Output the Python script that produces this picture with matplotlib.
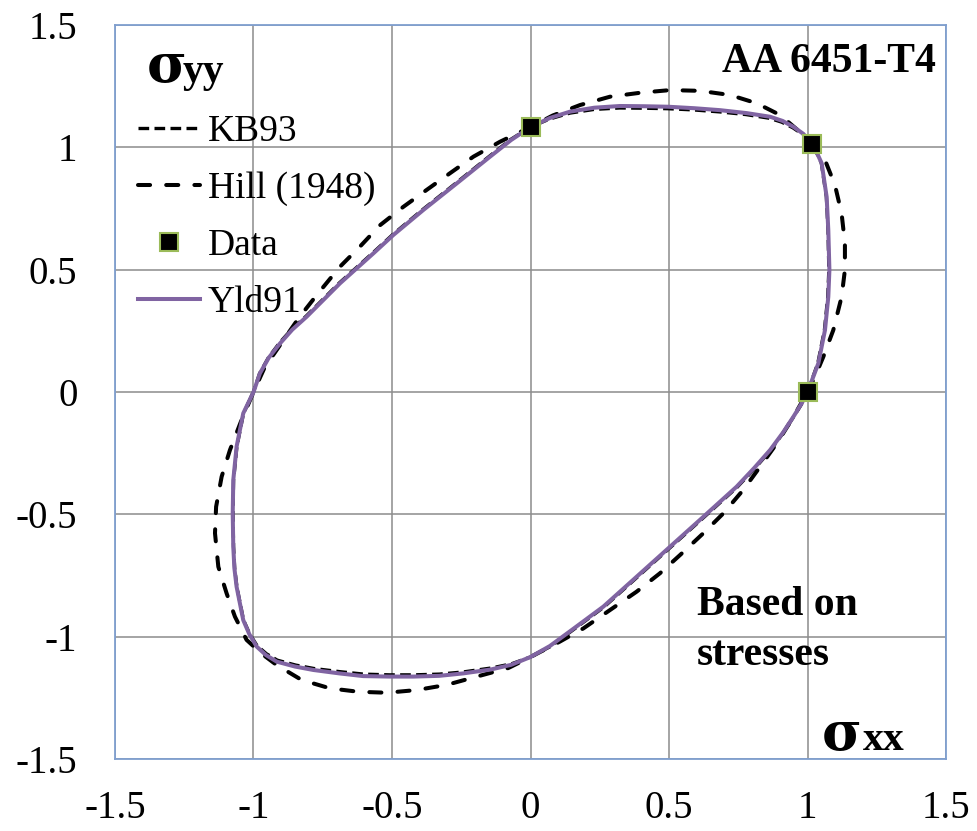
import matplotlib.pyplot as plt

plt.rcParams['font.family'] = ['Liberation Serif', 'DejaVu Serif']

# Yld91 yield locus (normalised stresses), counter-clockwise from uniaxial xx
yld91_x = [1.000, 1.039, 1.063, 1.075, 1.079, 1.075, 1.069, 1.051, 1.035, 1.015,
           0.985, 0.949, 0.910, 0.865, 0.780, 0.684, 0.590, 0.497, 0.410, 0.323,
           0.230, 0.143, 0.070, 0.000, -0.070, -0.146, -0.266, -0.387, -0.495,
           -0.567, -0.688, -0.808, -0.860, -0.904, -0.945, -0.977, -1.000, -1.037,
           -1.061, -1.073, -1.075, -1.073, -1.069, -1.061, -1.037, -1.015, -0.988,
           -0.955, -0.916, -0.850, -0.784, -0.690, -0.604, -0.510, -0.423, -0.330,
           -0.243, -0.143, -0.070, 0.000, 0.070, 0.146, 0.263, 0.383, 0.504, 0.624,
           0.744, 0.808, 0.865, 0.912, 0.949, 0.977, 1.000]
yld91_y = [0.000, 0.117, 0.253, 0.389, 0.499, 0.662, 0.798, 0.935, 0.975, 1.015,
           1.055, 1.084, 1.108, 1.125, 1.140, 1.152, 1.160, 1.166, 1.168, 1.169,
           1.162, 1.146, 1.120, 1.083, 1.030, 0.962, 0.853, 0.744, 0.642,
           0.567, 0.444, 0.308, 0.255, 0.199, 0.140, 0.076, 0.000, -0.087,
           -0.223, -0.360, -0.496, -0.632, -0.720, -0.796, -0.932, -0.990, -1.041,
           -1.075, -1.102, -1.122, -1.136, -1.150, -1.161, -1.163, -1.163, -1.160,
           -1.150, -1.134, -1.115, -1.083, -1.038, -0.975, -0.877, -0.755, -0.632, -0.510,
           -0.387, -0.310, -0.237, -0.165, -0.101, -0.050, 0.000]

# KB93 locus, nearly on top of Yld91
kb93_x = [1.000, 1.037, 1.061, 1.073, 1.077, 1.074, 1.068, 1.050, 1.034, 1.015,
          0.984, 0.947, 0.907, 0.862, 0.778, 0.682, 0.588, 0.496, 0.409, 0.322,
          0.229, 0.142, 0.069, 0.000, -0.072, -0.148, -0.268, -0.389, -0.497,
          -0.569, -0.690, -0.810, -0.862, -0.906, -0.946, -0.978, -1.000, -1.036,
          -1.060, -1.072, -1.074, -1.072, -1.068, -1.060, -1.036, -1.014, -0.987,
          -0.953, -0.914, -0.848, -0.782, -0.688, -0.602, -0.509, -0.422, -0.329,
          -0.242, -0.142, -0.069, 0.000, 0.072, 0.148, 0.265, 0.385, 0.506, 0.626,
          0.746, 0.810, 0.866, 0.913, 0.950, 0.978, 1.000]
kb93_y = [0.000, 0.117, 0.253, 0.389, 0.499, 0.662, 0.798, 0.935, 0.975, 1.015,
          1.052, 1.080, 1.103, 1.119, 1.134, 1.145, 1.153, 1.158, 1.160, 1.161,
          1.155, 1.140, 1.116, 1.083, 1.032, 0.964, 0.855, 0.746, 0.644,
          0.569, 0.446, 0.310, 0.257, 0.201, 0.141, 0.076, 0.000, -0.087,
          -0.223, -0.360, -0.496, -0.632, -0.720, -0.796, -0.932, -0.988, -1.037,
          -1.070, -1.096, -1.116, -1.130, -1.143, -1.153, -1.156, -1.156, -1.153,
          -1.144, -1.128, -1.111, -1.083, -1.040, -0.977, -0.879, -0.757, -0.634, -0.512,
          -0.389, -0.312, -0.239, -0.166, -0.101, -0.050, 0.000]

# Hill (1948) quadratic locus
hill_x = [1.000, 1.027, 1.057, 1.093, 1.123, 1.135, 1.135, 1.123, 1.099, 1.063,
          1.015, 0.960, 0.901, 0.817, 0.720, 0.612, 0.504, 0.395, 0.287, 0.179,
          0.080, 0.000, -0.110, -0.206, -0.291, -0.375, -0.459, -0.543, -0.616,
          -0.688, -0.772, -0.835, -0.892, -0.960, -1.000, -1.043, -1.085, -1.115,
          -1.135, -1.139, -1.127, -1.097, -1.067, -1.025, -0.970, -0.916, -0.826,
          -0.724, -0.622, -0.519, -0.411, -0.303, -0.194, -0.080, 0.000, 0.106,
          0.191, 0.287, 0.383, 0.467, 0.540, 0.624, 0.696, 0.768, 0.829, 0.889,
          0.950, 1.000]
hill_y = [0.000, 0.063, 0.144, 0.253, 0.389, 0.499, 0.608, 0.730, 0.846, 0.948,
          1.015, 1.075, 1.132, 1.180, 1.214, 1.231, 1.234, 1.223, 1.207, 1.173,
          1.130, 1.083, 1.023, 0.962, 0.894, 0.826, 0.757, 0.682, 0.594,
          0.512, 0.396, 0.305, 0.212, 0.100, 0.000, -0.114, -0.237, -0.346,
          -0.469, -0.577, -0.714, -0.823, -0.918, -1.013, -1.070, -1.116, -1.177,
          -1.211, -1.225, -1.229, -1.218, -1.197, -1.163, -1.128, -1.083, -1.020,
          -0.966, -0.891, -0.816, -0.741, -0.666, -0.577, -0.496, -0.400, -0.305, -0.210,
          -0.100, 0.000]

# measured yield stresses
data_x = [0.0, 1.015, 1.0]
data_y = [1.083, 1.015, 0.0]

ticks = [-1.5, -1, -0.5, 0, 0.5, 1, 1.5]
tick_labels = ['-1.5', '-1', '-0.5', '0', '0.5', '1', '1.5']

fig = plt.figure(figsize=(9.77, 8.31), dpi=100)
ax = fig.add_axes([0.1177, 0.0866, 0.8506, 0.8833])

ax.plot(kb93_x, kb93_y, color='black', lw=2.4, linestyle=(0, (3.2, 1.6)), label='KB93')
ax.plot(hill_x, hill_y, color='black', lw=2.9, linestyle=(0, (3.0, 4.0)),
        dash_capstyle='round', label='Hill (1948)')
ax.plot(data_x, data_y, 's', color='black', markersize=13, markeredgecolor='#9BBB59',
        markeredgewidth=1.5, label='Data', zorder=5)
ax.plot(yld91_x, yld91_y, color='#8064A2', lw=2.9, label='Yld91', zorder=4)

ax.set_xlim(-1.5, 1.5)
ax.set_ylim(-1.5, 1.5)
ax.set_xticks(ticks)
ax.set_xticklabels(tick_labels)
ax.set_yticks(ticks)
ax.set_yticklabels(tick_labels)
ax.tick_params(length=0, labelsize=28)
ax.tick_params(axis='y', pad=27)
ax.tick_params(axis='x', pad=22)
ax.grid(True, color='#8c8c8c', lw=1.1)
ax.set_axisbelow(True)
for s in ax.spines.values():
    s.set_color('#7F9FCF')
    s.set_linewidth(1.3)

ax.legend(loc='upper left', bbox_to_anchor=(0.028, 0.878),
          frameon=False, fontsize=27, borderaxespad=0, borderpad=0,
          handlelength=1.65, handletextpad=0.2, labelspacing=0.6)

sigma_font = ['DejaVu Serif']
ax.text(0.038, 0.922, 'σ', transform=ax.transAxes, fontsize=39, fontweight='bold',
        family=sigma_font, va='baseline', ha='left')
ax.text(0.081, 0.922, 'yy', transform=ax.transAxes, fontsize=30, fontweight='bold',
        va='baseline', ha='left')
ax.text(0.988, 0.950, 'AA 6451-T4', transform=ax.transAxes, fontsize=30,
        fontweight='bold', va='center', ha='right')
ax.text(0.700, 0.196, 'Based on', transform=ax.transAxes, fontsize=30,
        fontweight='bold', va='baseline', ha='left')
ax.text(0.700, 0.128, 'stresses', transform=ax.transAxes, fontsize=30,
        fontweight='bold', va='baseline', ha='left')
ax.text(0.851, 0.012, 'σ', transform=ax.transAxes, fontsize=39, fontweight='bold',
        family=sigma_font, va='baseline', ha='left')
ax.text(0.900, 0.012, 'xx', transform=ax.transAxes, fontsize=30, fontweight='bold',
        va='baseline', ha='left')

fig.savefig('out.png', dpi=100)
